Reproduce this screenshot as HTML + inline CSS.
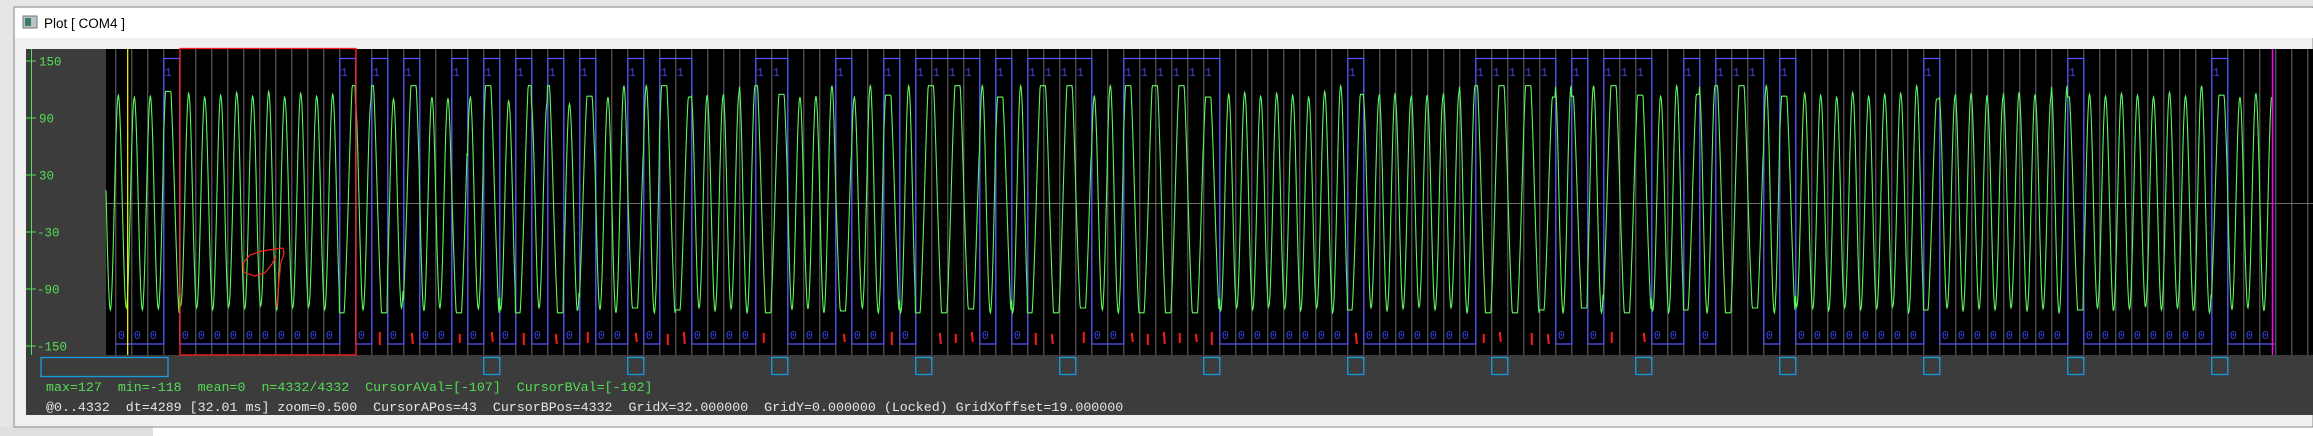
<!DOCTYPE html>
<html><head><meta charset="utf-8"><style>
html,body{margin:0;padding:0;background:#fff;}
svg{display:block;}
text{font-family:"Liberation Mono",monospace;}
</style></head><body>
<svg id="plot" width="2313" height="436" viewBox="0 0 2313 436" xmlns="http://www.w3.org/2000/svg">
  <rect x="0" y="0" width="2313" height="436" fill="#ffffff"/>
  <rect x="0" y="0" width="2313" height="7" fill="#e6e6e6"/>
  <rect x="0" y="0" width="14" height="436" fill="#e6e6e6"/>
  <rect x="0" y="427" width="153" height="9" fill="#e0e0e0"/>
  <rect x="14" y="7" width="2299" height="420" fill="#f0f0f0" stroke="#8a8a8a" stroke-width="1"/>
  <rect x="15" y="8" width="2298" height="30" fill="#ffffff"/>
  <g>
    <rect x="23" y="16" width="14" height="12" fill="#b8c4c8" stroke="#777" stroke-width="1"/>
    <rect x="25" y="18" width="6" height="8" fill="#3d7a6a"/>
  </g>
  <text x="44" y="28" font-size="13.5" fill="#000" style="font-family:'Liberation Sans',sans-serif">Plot [ COM4 ]</text>

  <rect x="26" y="49" width="80" height="306" fill="#3c3c3c"/>
  <rect x="106" y="49" width="2207" height="306" fill="#000000"/>
  <rect x="26" y="355" width="2287" height="60" fill="#3c3c3c"/>

  <g id="grid"></g>
  <line x1="106" y1="203.5" x2="2313" y2="203.5" stroke="#6b6b6b" stroke-width="1"/>
  <g id="yaxis"></g>
  <g id="digital"></g>
  <g id="analog"></g>
  <g id="redmarks"></g>
  <path d="M283,248 L262,251 L250,255 L243,263 L244,272 L254,276 L265,273 L272,264 L276,256 M283,248 L284,254 L281,262 L279,280 L277,307" fill="none" stroke="#ff2020" stroke-width="1.2"/>
  <rect x="180" y="48.5" width="176" height="306.5" fill="none" stroke="#ff2020" stroke-width="1.3"/>
  <line x1="127.7" y1="49" x2="127.7" y2="355" stroke="#ffff00" stroke-width="1.2"/>
  <line x1="2272.5" y1="49" x2="2272.5" y2="355" stroke="#ff00ff" stroke-width="1.5"/>
  <g id="markers"></g>
  <rect x="41" y="357.5" width="127" height="19" fill="none" stroke="#1a9be0" stroke-width="1.3"/>

  <text x="46" y="391" font-size="13.3" fill="#55dd55" xml:space="preserve" style="white-space:pre">max=127  min=-118  mean=0  n=4332/4332  CursorAVal=[-107]  CursorBVal=[-102]</text>
  <text x="46" y="411" font-size="13.3" fill="#e6e6e6" xml:space="preserve" style="white-space:pre">@0..4332  dt=4289 [32.01 ms] zoom=0.500  CursorAPos=43  CursorBPos=4332  GridX=32.000000  GridY=0.000000 (Locked) GridXoffset=19.000000</text>
</svg>
<script>
const yTicks = [150, 90, 30, -30, -90, -150];
const oneCells = [3,14,16,18,21,23,25,27,29,32,34,35,40,41,45,48,50,51,52,53,55,57,58,59,60,63,64,65,66,67,68,77,85,86,87,88,89,91,93,94,95,98,100,101,102,104,113,122,131];
const redCells = [16,18,21,23,25,27,29,32,34,35,40,45,48,51,52,53,57,58,60,63,64,65,66,67,68,77,85,86,88,89,93,95];
const markerCells = [23,32,41,50,59,68,77,86,95,104,113,122,131];
const peaks = [112,114,112,113,118,116,112,114,117,113,118,112,116,113,115,124,108,124,110,124,112,111,124,112,124,108,124,106,124,105,113,112,124,110,124,124,112,114,113,116,124,124,115,112,113,124,110,112,124,114,124,124,124,124,113,124,112,124,124,124,124,114,113,124,124,124,124,124,124,112,115,117,113,116,114,112,118,124,115,113,116,112,114,113,117,124,124,124,124,124,112,124,113,124,124,124,114,113,124,115,124,124,124,112,124,113,116,114,112,117,113,115,116,124,110,113,116,114,112,117,115,113,124,112,115,113,116,114,112,117,113,124,114,112,116,114];
const troughs = [-112,-110,-112,-111,-115,-108,-110,-112,-109,-111,-108,-112,-110,-109,-112,-115,-112,-115,-110,-115,-113,-110,-115,-111,-115,-112,-115,-110,-115,-113,-111,-112,-115,-110,-115,-115,-112,-110,-113,-111,-115,-115,-110,-112,-111,-115,-113,-110,-115,-112,-115,-115,-115,-115,-111,-115,-112,-115,-115,-115,-115,-110,-112,-115,-115,-115,-115,-115,-115,-111,-113,-110,-112,-109,-111,-113,-110,-115,-112,-110,-113,-111,-109,-112,-110,-115,-115,-115,-115,-115,-112,-115,-110,-115,-115,-115,-111,-113,-115,-112,-115,-115,-115,-110,-115,-112,-109,-111,-113,-110,-112,-111,-109,-115,-112,-110,-113,-111,-112,-110,-113,-111,-115,-112,-110,-113,-111,-109,-112,-110,-113,-115,-111,-112,-110,-113];
const nSamples = 4332, gridOffset = 19, gridX = 32;

const NS = 'http://www.w3.org/2000/svg';
const plotX0 = 106, pxPerSample = 0.5;
function xOfSample(s){ return plotX0 + s*pxPerSample; }
function xOfCell(k){ return xOfSample(gridOffset + k*gridX) + 0.3; }
function yOf(v){ return 203.5 - v*0.95; }
function mk(tag, attrs, parent){ const e=document.createElementNS(NS,tag); for(const a in attrs) e.setAttribute(a,attrs[a]); parent.appendChild(e); return e; }
const isOne = k => oneCells.indexOf(k) >= 0;
const nCells = Math.ceil((nSamples - gridOffset)/gridX);

// grid
const grid = document.getElementById('grid');
for(let k=0; xOfCell(k) < 2313; k++){
  const l = mk('line',{x1:xOfCell(k),y1:49,x2:xOfCell(k),y2:355,stroke:'#6b6b6b','stroke-width':1},grid);
  
  
}
// y axis
const ya = document.getElementById('yaxis');
const ax = mk('line',{x1:31.5,y1:49,x2:31.5,y2:355,stroke:'#55dd55','stroke-width':1},ya);


yTicks.forEach(v=>{
  const t = mk('line',{x1:26,y1:yOf(v),x2:36,y2:yOf(v),stroke:'#55dd55','stroke-width':1},ya);
  
  
  const tx = mk('text',{x: v<0?37:39, y:yOf(v)+4.5,'font-size':12.5,fill:'#55dd55'},ya);
  tx.textContent = String(v);
  
  
});
// digital trace
const dg = document.getElementById('digital');
let d = '';
const yHi = 58.5, yLo = 344;
for(let k=0;k<nCells;k++){
  const x0 = xOfCell(k), x1 = Math.min(xOfCell(k+1), 2275);
  const y = isOne(k)?yHi:yLo;
  d += (k===0?'M':'L')+x0+','+y+' L'+x1+','+y+' ';
  const lb = mk('text',{x:x0+(isOne(k)?1:2),y:isOne(k)?76:339,'font-size':12,fill:'#3344dd'},dg);
  lb.textContent = isOne(k)?'1':'0';
  
  
}
const dp = mk('path',{d:d,fill:'none',stroke:'#5555ff','stroke-width':1.3},dg);


// analog trace
const an = document.getElementById('analog');
let phase = 0.23, ad = '';
for(let i=0;i<nSamples;i++){
  const k = Math.floor((i-gridOffset)/gridX);
  const one = k>=0 && isOne(k);
  const c = Math.cos(2*Math.PI*phase);
  const idx = Math.max(0, Math.min(peaks.length-1, k+1));
  let v = c>0 ? c*peaks[idx]*(one?1.25:1) : -c*troughs[idx]*(one?1.25:1);
  if(one){ v = Math.max(troughs[idx], Math.min(peaks[idx], v)); }
  const x = xOfSample(i), y = yOf(Math.round(v));
  ad += (i===0?'M':'L')+x.toFixed(1)+','+y.toFixed(1)+' ';
  phase += (one?0.6:1)/gridX;
}
const ap = mk('path',{d:ad,fill:'none',stroke:'#5cf55c','stroke-width':1.1},an);


// red marks
const rm = document.getElementById('redmarks');
redCells.forEach((k,j)=>{
  const x = xOfCell(k)+8;
  const r = mk('path',{d:'M'+x+','+(332+(j%3))+' L'+(x+(j%2))+','+(345-(j%4)),stroke:'#ff1a1a','stroke-width':2,fill:'none'},rm);
  
  
});
// markers
const mg = document.getElementById('markers');
markerCells.forEach(k=>{
  const r = mk('rect',{x:xOfCell(k),y:357.5,width:16,height:17,fill:'none',stroke:'#1a9be0','stroke-width':1.3},mg);
  
  
});
</script>
</body></html>
